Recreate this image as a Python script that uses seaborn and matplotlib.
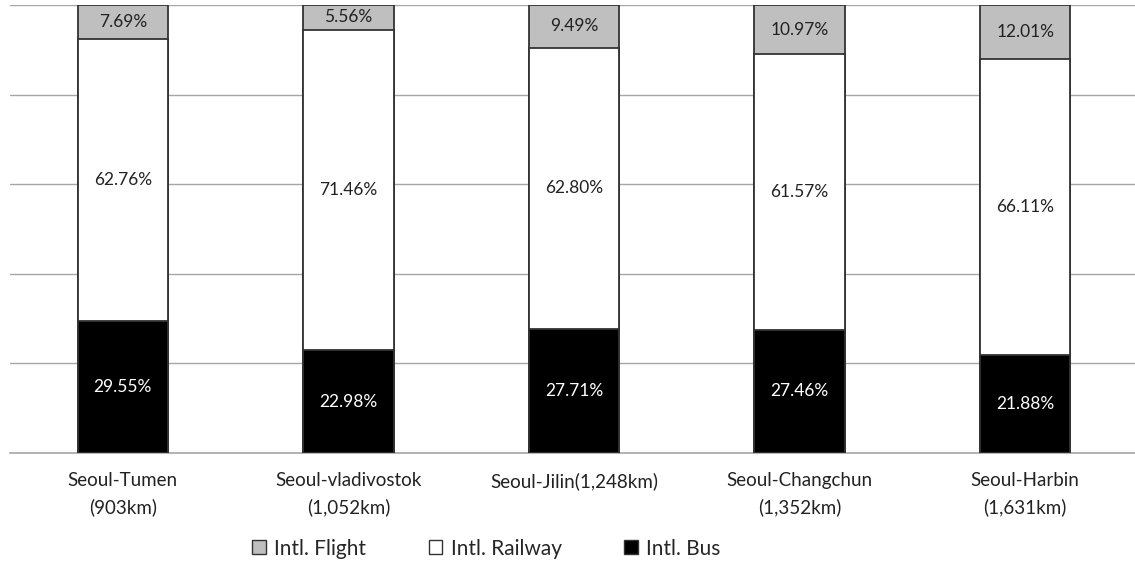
import matplotlib
matplotlib.use("Agg")
import matplotlib.pyplot as plt
import seaborn as sns
import numpy as np
from matplotlib.patches import Patch

categories = ["Seoul-Tumen\n(903km)", "Seoul-vladivostok\n(1,052km)", "Seoul-Jilin(1,248km)",
              "Seoul-Changchun\n(1,352km)", "Seoul-Harbin\n(1,631km)"]
bus = [29.55, 22.98, 27.71, 27.46, 21.88]
railway = [62.76, 71.46, 62.80, 61.57, 66.11]
flight = [7.69, 5.56, 9.49, 10.97, 12.01]
series_names = ["Intl. Flight", "Intl. Railway", "Intl. Bus"]

sns.set_theme(style="white")
plt.rcParams['font.family'] = ['Lato', 'DejaVu Sans']

fig = plt.figure(figsize=(11.35, 5.62), dpi=100)
ax = fig.add_axes([10/1135, 109/562, 1128/1135, 448/562])

bus_a = np.array(bus)
rail_top = bus_a + np.array(railway)
total = rail_top + np.array(flight)

edge = "#333333"
lw = 1.3
sns.barplot(x=categories, y=total, color="#BFBFBF", edgecolor=edge, linewidth=lw, width=0.4, ax=ax, zorder=3, saturation=1)
sns.barplot(x=categories, y=rail_top, color="#FFFFFF", edgecolor=edge, linewidth=lw, width=0.4, ax=ax, zorder=4, saturation=1)
sns.barplot(x=categories, y=bus_a, color="#000000", edgecolor=edge, linewidth=lw, width=0.4, ax=ax, zorder=5, saturation=1)

lbl_fs = 12.5
for i in range(len(categories)):
    ax.text(i, bus[i] / 2, f"{bus[i]:.2f}%", ha="center", va="center", color="white", fontsize=lbl_fs, zorder=6)
    ax.text(i, bus[i] + railway[i] / 2, f"{railway[i]:.2f}%", ha="center", va="center", color="#222222", fontsize=lbl_fs, zorder=6)
    ax.text(i, rail_top[i] + flight[i] / 2, f"{flight[i]:.2f}%", ha="center", va="center", color="#222222", fontsize=lbl_fs, zorder=6)

ax.set_xlim(-0.5, 4.5)
ax.set_ylim(0, 100)
ax.set_yticks([20, 40, 60, 80, 100])
ax.set_yticklabels([])
ax.tick_params(axis="y", length=0)
ax.grid(axis="y", color="#A6A6A6", linewidth=1.0, zorder=0)
ax.set_axisbelow(True)
for s in ["top", "right", "left"]:
    ax.spines[s].set_visible(False)
ax.spines["bottom"].set_color("#A6A6A6")
ax.spines["bottom"].set_linewidth(1.2)

ax.set_xticks(range(len(categories)))
ax.set_xticklabels(categories, fontsize=13.5, color="#222222", linespacing=1.6)
ax.tick_params(axis="x", which="major", length=0, pad=14)
ax.set_xticks(np.arange(-0.5, 5.0, 1.0), minor=True)
ax.tick_params(axis="x", which="minor", length=6, width=1.0, color="#A6A6A6", direction="out")
ax.set_xlabel("")
ax.set_ylabel("")

handles = [Patch(facecolor="#BFBFBF", edgecolor="#333333", linewidth=1.0),
           Patch(facecolor="#FFFFFF", edgecolor="#333333", linewidth=1.0),
           Patch(facecolor="#000000", edgecolor="#333333", linewidth=1.0)]
fig.legend(handles, series_names, loc="center", bbox_to_anchor=(0.4286, 0.024), ncol=3, frameon=False,
           fontsize=15, handlelength=0.65, handleheight=0.65, handletextpad=0.4, columnspacing=3.0)

fig.savefig("out.png", dpi=100)
